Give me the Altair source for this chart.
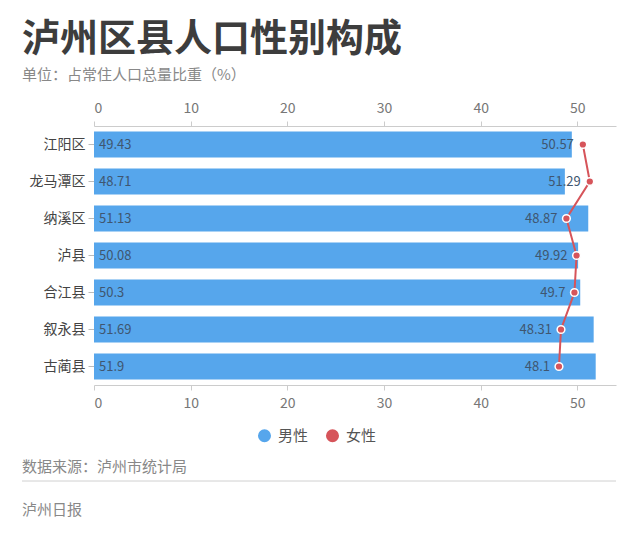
import altair as alt
import pandas as pd

regions = ["江阳区", "龙马潭区", "纳溪区", "泸县", "合江县", "叙永县", "古蔺县"]
male = [49.43, 48.71, 51.13, 50.08, 50.3, 51.69, 51.9]
female = [50.57, 51.29, 48.87, 49.92, 49.7, 48.31, 48.1]
sexes = ["男性", "女性"]
x_ticks = [0, 10, 20, 30, 40, 50]

title_text = "泸州区县人口性别构成"
subtitle_text = "单位：占常住人口总量比重（%）"
source_text = "数据来源：泸州市统计局"
footer_text = "泸州日报"

FONT = "Noto Sans CJK SC"
BLUE = "#56a6ec"
RED = "#d6545a"

male_df = pd.DataFrame({"region": regions, "value": male, "sex": "男性",
                        "idx": list(range(len(regions)))})
female_df = pd.DataFrame({"region": regions, "value": female, "sex": "女性",
                          "idx": list(range(len(regions)))})

xscale = alt.Scale(domain=[0, 54], nice=False, zero=True)
yscale = alt.Scale(domain=regions, paddingInner=0.3, paddingOuter=0.15)
cscale = alt.Scale(domain=sexes, range=[BLUE, RED])

axis_common = dict(values=x_ticks, grid=False, labelFontSize=14, labelColor="#777777",
                   labelFont=FONT, domainColor="#cccccc", tickColor="#cccccc",
                   tickSize=5, labelPadding=6, title=None)

yaxis = alt.Axis(title=None, domain=False, ticks=True, tickColor="#bbbbbb",
                 tickSize=6, labelFontSize=14, labelColor="#444444",
                 labelFont=FONT, labelPadding=3)
Y = alt.Y("region:N", scale=yscale, sort=regions, axis=yaxis)

bars = alt.Chart(male_df).mark_bar(height=26).encode(
    x=alt.X("value:Q", scale=xscale, axis=alt.Axis(orient="bottom", **axis_common)),
    y=Y,
    color=alt.Color("sex:N", scale=cscale,
                    legend=alt.Legend(title=None, orient="none", direction="horizontal",
                                      legendX=163, legendY=302, symbolType="circle",
                                      symbolSize=170, symbolStrokeWidth=0,
                                      labelFontSize=15, labelColor="#555555",
                                      labelFont=FONT, columnPadding=16,
                                      labelOffset=6)),
)

male_labels = alt.Chart(male_df).mark_text(align="left", dx=5, fontSize=13,
                                           color="#3f5670", font=FONT).encode(
    x=alt.X(datum=0, scale=xscale, axis=None),
    y=Y,
    text=alt.Text("value:Q"),
)

line = alt.Chart(female_df).mark_line(color=RED, strokeWidth=2).encode(
    x=alt.X("value:Q", scale=xscale, axis=alt.Axis(orient="top", **axis_common)),
    y=Y,
    order=alt.Order("idx:Q"),
)

points = alt.Chart(female_df).mark_point(filled=True, size=60, stroke="white",
                                         strokeWidth=1.5, opacity=1).encode(
    x=alt.X("value:Q", scale=xscale, axis=None),
    y=Y,
    color=alt.Color("sex:N", scale=cscale),
)

female_labels = alt.Chart(female_df).mark_text(align="right", dx=-9, fontSize=13,
                                               color="#3f5670", font=FONT).encode(
    x=alt.X("value:Q", scale=xscale, axis=None),
    y=Y,
    text=alt.Text("value:Q"),
)

def note(txt, x, y, size, color, weight="normal"):
    return alt.Chart(pd.DataFrame({"t": [txt]})).mark_text(
        align="left", baseline="middle", fontSize=size, color=color,
        font=FONT, fontWeight=weight).encode(
        x=alt.value(x), y=alt.value(y), text="t:N")

title = note(title_text, -72, -86, 38, "#3d3d3d", "bold")
subtitle = note(subtitle_text, -72, -51, 15, "#888888")
source = note(source_text, -72, 341, 15, "#888888")
footer = note(footer_text, -72, 384, 15, "#888888")
sep = alt.Chart(pd.DataFrame({"a": [0]})).mark_rule(color="#d0d0d0", strokeWidth=1).encode(
    x=alt.value(-72), x2=alt.value(522), y=alt.value(355))

chart = alt.layer(
    bars, male_labels, line, points, female_labels, title, subtitle, source, footer, sep
).resolve_axis(x="independent").properties(
    width=522, height=259,
    autosize=alt.AutoSizeParams(type="none"),
    padding={"left": 86, "top": 118, "right": 16, "bottom": 148},
    background="white",
).configure_view(stroke=None)

chart.save("out.html", embed_options={"renderer": "svg", "actions": False})
